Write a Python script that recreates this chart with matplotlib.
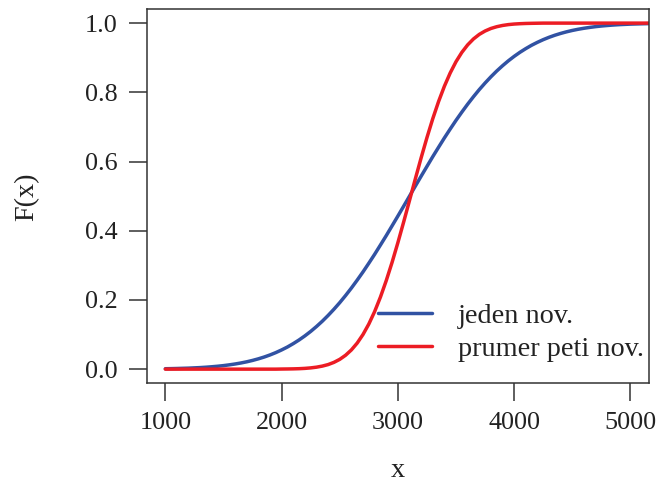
import matplotlib
matplotlib.use("Agg")
import matplotlib.pyplot as plt

OUTPUT = "out.png"

# curve values, every 50 units of x (1000 .. 5200)
x_vals = list(range(1000, 5201, 50))

jeden = [0.0012, 0.0015, 0.0019, 0.0024, 0.0029, 0.0037, 0.0045, 0.0056, 0.0069, 0.0084,
         0.0102, 0.0124, 0.0149, 0.0178, 0.0212, 0.0252, 0.0298, 0.0350, 0.0410, 0.0478,
         0.0555, 0.0640, 0.0737, 0.0843, 0.0961, 0.1090, 0.1232, 0.1385, 0.1552, 0.1731,
         0.1922, 0.2127, 0.2343, 0.2572, 0.2810, 0.3061, 0.3318, 0.3587, 0.3859, 0.4141,
         0.4424, 0.4711, 0.5000, 0.5289, 0.5576, 0.5859, 0.6141, 0.6413, 0.6682, 0.6939,
         0.7190, 0.7428, 0.7657, 0.7873, 0.8078, 0.8269, 0.8448, 0.8615, 0.8768, 0.8910,
         0.9039, 0.9157, 0.9263, 0.9360, 0.9445, 0.9522, 0.9590, 0.9650, 0.9702, 0.9748,
         0.9788, 0.9822, 0.9851, 0.9876, 0.9898, 0.9916, 0.9931, 0.9944, 0.9955, 0.9963,
         0.9971, 0.9976, 0.9981, 0.9985, 0.9988]

prumer = [0.0, 0.0, 0.0, 0.0, 0.0, 0.0, 0.0, 0.0, 0.0, 0.0,
          0.0, 0.0, 0.0, 0.0, 0.0, 0.0, 0.0, 0.0, 0.0, 0.0,
          0.0003, 0.0005, 0.0008, 0.0013, 0.0022, 0.0036, 0.0057, 0.0088, 0.0132, 0.0196,
          0.0283, 0.0401, 0.0555, 0.0753, 0.1001, 0.1303, 0.1663, 0.2083, 0.2559, 0.3085,
          0.3655, 0.4256, 0.4875, 0.5497, 0.6107, 0.6691, 0.7237, 0.7734, 0.8176, 0.8560,
          0.8886, 0.9154, 0.9371, 0.9542, 0.9674, 0.9772, 0.9845, 0.9896, 0.9932, 0.9957,
          0.9973, 0.9983, 0.9990, 0.9994, 0.9997, 1.0, 1.0, 1.0, 1.0, 1.0,
          1.0, 1.0, 1.0, 1.0, 1.0, 1.0, 1.0, 1.0, 1.0, 1.0,
          1.0, 1.0, 1.0, 1.0, 1.0]

labels = ["jeden nov.", "prumer peti nov."]
colors = ["#3152a3", "#ec1c24"]

plt.rcParams["font.family"] = ["Liberation Serif", "DejaVu Serif"]
FS_TICK = 18.8
FS_TEXT = 20.3

fig = plt.figure(figsize=(6.7, 4.88), dpi=100)
ax = fig.add_axes([0.219, 0.2152, 0.7497, 0.7658])

ax.plot(x_vals, jeden, color=colors[0], linewidth=2.5, label=labels[0],
        solid_capstyle="round")
ax.plot(x_vals, prumer, color=colors[1], linewidth=2.5, label=labels[1],
        solid_capstyle="round")

ax.set_xlim(840, 5160)
ax.set_ylim(-0.04, 1.04)
ax.set_xticks([1000, 2000, 3000, 4000, 5000])
ax.set_yticks([0.0, 0.2, 0.4, 0.6, 0.8, 1.0])
ax.set_yticklabels(["0.0", "0.2", "0.4", "0.6", "0.8", "1.0"])

for s in ax.spines.values():
    s.set_color("#333333")
    s.set_linewidth(1.1)
ax.tick_params(direction="out", length=13, width=1.1, color="#333333",
               labelsize=FS_TICK, labelcolor="#222222", pad=8)

ax.set_xlabel("x", fontsize=FS_TEXT, color="#222222")
ax.set_ylabel("F(x)", fontsize=FS_TEXT, color="#222222")
ax.xaxis.set_label_coords(0.5, -0.235)
ax.xaxis.label.set_va("center")
ax.yaxis.set_label_coords(-0.238, 0.498)
ax.yaxis.label.set_va("center")

leg = ax.legend(loc="center left", bbox_to_anchor=(0.4605, 0.135), frameon=False,
                fontsize=FS_TEXT, handlelength=1.93, handletextpad=0.9,
                labelspacing=0.25, borderpad=0, borderaxespad=0)
for t in leg.get_texts():
    t.set_color("#222222")

fig.savefig(OUTPUT, dpi=100)
print(f"Saved {OUTPUT}")
